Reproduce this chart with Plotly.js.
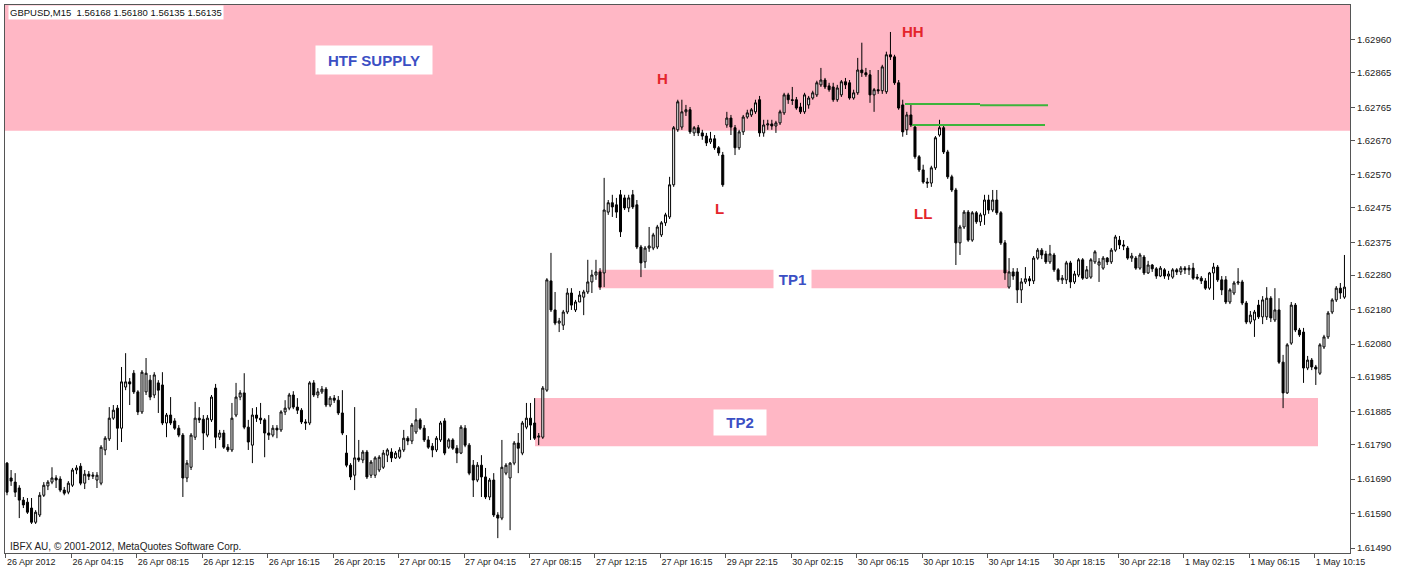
<!DOCTYPE html>
<html><head><meta charset="utf-8">
<script src="https://cdn.plot.ly/plotly-3.0.1.min.js"></script>
<style>html,body{margin:0;padding:0;background:#fff;}#chart{width:1407px;height:573px;}</style>
</head><body><div id="chart"></div>
<script>
// ---- data ----
const timeLabels = ["26 Apr 2012","26 Apr 04:15","26 Apr 08:15","26 Apr 12:15","26 Apr 16:15","26 Apr 20:15",
  "27 Apr 00:15","27 Apr 04:15","27 Apr 08:15","27 Apr 12:15","27 Apr 16:15","29 Apr 22:15","30 Apr 02:15",
  "30 Apr 06:15","30 Apr 10:15","30 Apr 14:15","30 Apr 18:15","30 Apr 22:18","1 May 02:15","1 May 06:15","1 May 10:15"];
const priceTicks = [1.62960,1.62865,1.62765,1.62670,1.62570,1.62475,1.62375,1.62280,1.62180,1.62080,1.61985,1.61885,1.61790,1.61690,1.61590,1.61490];

const open = [
1.61736,1.61693,1.61681,1.61664,1.61629,1.61623,1.61606,1.61565,1.61586,1.61643,
1.61670,1.61681,1.61693,1.61690,1.61658,1.61652,1.61672,1.61716,1.61727,1.61678,
1.61704,1.61698,1.61687,1.61678,1.61774,1.61806,1.61866,1.61895,1.61837,1.61956,
1.61971,1.61996,1.61942,1.61884,1.61942,1.61976,1.61933,1.61968,1.61962,1.61852,
1.61875,1.61858,1.61837,1.61817,1.61693,1.61724,1.61811,1.61866,1.61863,1.61817,
1.61861,1.61953,1.61811,1.61823,1.61782,1.61774,1.61875,1.61927,1.61939,1.61840,
1.61788,1.61875,1.61866,1.61861,1.61823,1.61817,1.61837,1.61832,1.61884,1.61895,
1.61933,1.61898,1.61889,1.61855,1.61852,1.61968,1.61933,1.61942,1.61950,1.61904,
1.61924,1.61918,1.61881,1.61765,1.61730,1.61701,1.61751,1.61745,1.61768,1.61701,
1.61701,1.61716,1.61724,1.61759,1.61768,1.61751,1.61753,1.61774,1.61808,1.61800,
1.61826,1.61861,1.61837,1.61803,1.61785,1.61774,1.61803,1.61858,1.61782,1.61803,
1.61779,1.61765,1.61837,1.61788,1.61730,1.61687,1.61730,1.61696,1.61638,1.61687,
1.61586,1.61577,1.61707,1.61693,1.61736,1.61794,1.61765,1.61840,1.61866,1.61852,
1.61811,1.61811,1.61947,1.62263,1.62179,1.62141,1.62135,1.62173,1.62228,1.62179,
1.62202,1.62216,1.62231,1.62260,1.62280,1.62289,1.62286,1.62462,1.62489,1.62483,
1.62512,1.62503,1.62474,1.62512,1.62483,1.62361,1.62318,1.62358,1.62358,1.62361,
1.62396,1.62431,1.62448,1.62541,1.62700,1.62708,1.62752,1.62758,1.62691,1.62706,
1.62691,1.62682,1.62665,1.62674,1.62648,1.62627,1.62714,1.62734,1.62706,1.62648,
1.62694,1.62737,1.62743,1.62752,1.62787,1.62691,1.62714,1.62717,1.62711,1.62720,
1.62749,1.62801,1.62787,1.62787,1.62766,1.62752,1.62772,1.62792,1.62801,
1.62830,1.62844,1.62827,1.62824,1.62787,1.62801,1.62839,1.62836,1.62792,
1.62807,1.62873,1.62865,1.62859,1.62801,1.62816,1.62813,1.62810,1.62917,1.62911,
1.62836,1.62772,1.62700,1.62743,1.62708,1.62622,1.62584,1.62549,1.62546,1.62590,
1.62685,1.62706,1.62636,1.62564,1.62526,1.62373,1.62419,1.62462,1.62381,1.62460,
1.62434,1.62454,1.62497,1.62468,1.62497,1.62460,1.62373,1.62245,1.62289,1.62289,
1.62237,1.62260,1.62269,1.62263,1.62329,1.62352,1.62341,1.62318,1.62338,1.62295,
1.62266,1.62266,1.62315,1.62260,1.62280,1.62324,1.62271,1.62274,1.62318,
1.62309,1.62300,1.62329,1.62318,1.62352,1.62381,1.62367,1.62358,1.62329,1.62329,
1.62300,1.62332,1.62286,1.62309,1.62298,1.62277,1.62295,1.62277,
1.62274,1.62295,1.62289,1.62300,1.62295,1.62300,1.62274,1.62271,1.62263,
1.62242,1.62286,1.62303,1.62266,1.62266,1.62202,1.62228,1.62257,1.62260,1.62199,
1.62144,1.62150,1.62193,1.62159,1.62159,1.62213,1.62150,1.62179,1.62028,1.61939,
1.62083,1.62193,1.62121,1.62115,1.62011,1.62034,1.62014,1.61996,1.62072,1.62101,
1.62173,1.62208,1.62242,1.62216];

const high = [
1.61739,1.61716,1.61707,1.61672,1.61638,1.61635,1.61635,1.61600,1.61652,1.61681,
1.61687,1.61724,1.61701,1.61698,1.61667,1.61684,1.61722,1.61730,1.61736,1.61716,
1.61713,1.61710,1.61710,1.61788,1.61814,1.61898,1.61904,1.61904,1.62014,1.62054,
1.61982,1.62005,1.61947,1.62005,1.62040,1.61991,1.61999,1.61976,1.61999,1.61881,
1.61927,1.61866,1.61846,1.61823,1.61745,1.61823,1.61913,1.61898,1.61875,1.61875,
1.61933,1.61965,1.61832,1.61832,1.61791,1.61910,1.61968,1.61947,1.61996,1.61861,
1.61895,1.61898,1.61910,1.61866,1.61875,1.61846,1.61846,1.61889,1.61918,1.61939,
1.61944,1.61924,1.61895,1.61863,1.61973,1.61976,1.61953,1.61959,1.61956,1.61930,
1.61933,1.61930,1.61947,1.61817,1.61736,1.61898,1.61803,1.61774,1.61774,1.61745,
1.61756,1.61759,1.61774,1.61779,1.61779,1.61771,1.61782,1.61832,1.61814,1.61852,
1.61895,1.61866,1.61846,1.61814,1.61794,1.61814,1.61858,1.61866,1.61808,1.61808,
1.61788,1.61846,1.61846,1.61794,1.61745,1.61739,1.61759,1.61722,1.61693,1.61707,
1.61594,1.61803,1.61736,1.61739,1.61800,1.61823,1.61858,1.61910,1.61910,1.61924,
1.61823,1.61959,1.62271,1.62344,1.62231,1.62156,1.62179,1.62242,1.62242,1.62208,
1.62234,1.62237,1.62324,1.62295,1.62324,1.62300,1.62561,1.62497,1.62512,1.62503,
1.62526,1.62512,1.62512,1.62526,1.62497,1.62367,1.62364,1.62419,1.62402,1.62425,
1.62436,1.62460,1.62564,1.62711,1.62787,1.62787,1.62772,1.62766,1.62711,1.62714,
1.62700,1.62691,1.62694,1.62685,1.62653,1.62636,1.62752,1.62743,1.62714,1.62700,
1.62743,1.62758,1.62763,1.62787,1.62798,1.62729,1.62729,1.62729,1.62726,1.62758,
1.62807,1.62807,1.62824,1.62795,1.62778,1.62807,1.62798,1.62813,1.62842,
1.62879,1.62850,1.62836,1.62836,1.62830,1.62844,1.62850,1.62844,1.62816,
1.62908,1.62952,1.62879,1.62873,1.62821,1.62873,1.62888,1.62926,1.62983,1.62917,
1.62844,1.62787,1.62752,1.62772,1.62714,1.62627,1.62599,1.62561,1.62596,1.62682,
1.62729,1.62711,1.62642,1.62570,1.62532,1.62425,1.62468,1.62468,1.62465,1.62465,
1.62460,1.62512,1.62512,1.62526,1.62526,1.62465,1.62381,1.62329,1.62300,1.62300,
1.62271,1.62303,1.62277,1.62335,1.62358,1.62358,1.62350,1.62367,1.62344,1.62300,
1.62280,1.62321,1.62321,1.62292,1.62329,1.62329,1.62306,1.62329,1.62352,
1.62329,1.62335,1.62332,1.62358,1.62396,1.62393,1.62381,1.62364,1.62344,1.62335,
1.62344,1.62338,1.62321,1.62312,1.62303,1.62306,1.62300,1.62292,
1.62300,1.62300,1.62306,1.62306,1.62309,1.62315,1.62283,1.62277,1.62271,
1.62289,1.62315,1.62309,1.62277,1.62277,1.62242,1.62263,1.62300,1.62266,1.62205,
1.62176,1.62179,1.62208,1.62219,1.62245,1.62219,1.62242,1.62213,1.62049,1.62083,
1.62202,1.62199,1.62127,1.62127,1.62046,1.62040,1.62020,1.62083,1.62107,1.62176,
1.62213,1.62248,1.62257,1.62338];

const low = [
1.61643,1.61670,1.61638,1.61577,1.61606,1.61589,1.61560,1.61560,1.61580,1.61638,
1.61658,1.61675,1.61664,1.61652,1.61643,1.61646,1.61667,1.61704,1.61672,1.61661,
1.61687,1.61690,1.61664,1.61672,1.61759,1.61800,1.61861,1.61774,1.61797,1.61947,
1.61904,1.61936,1.61875,1.61878,1.61933,1.61918,1.61924,1.61881,1.61846,1.61811,
1.61846,1.61832,1.61811,1.61638,1.61681,1.61716,1.61803,1.61852,1.61774,1.61811,
1.61855,1.61779,1.61803,1.61777,1.61768,1.61768,1.61869,1.61918,1.61834,1.61774,
1.61736,1.61855,1.61849,1.61753,1.61803,1.61811,1.61808,1.61826,1.61875,1.61889,
1.61892,1.61878,1.61849,1.61832,1.61846,1.61927,1.61924,1.61936,1.61898,1.61898,
1.61910,1.61875,1.61817,1.61724,1.61687,1.61658,1.61739,1.61736,1.61690,1.61693,
1.61693,1.61710,1.61719,1.61739,1.61739,1.61748,1.61748,1.61768,1.61788,1.61791,
1.61820,1.61832,1.61797,1.61777,1.61753,1.61768,1.61797,1.61759,1.61777,1.61774,
1.61736,1.61762,1.61782,1.61701,1.61638,1.61681,1.61638,1.61632,1.61629,1.61580,
1.61519,1.61571,1.61701,1.61542,1.61730,1.61707,1.61759,1.61834,1.61803,1.61803,
1.61788,1.61806,1.61942,1.62173,1.62135,1.62115,1.62121,1.62167,1.62179,1.62173,
1.62202,1.62164,1.62225,1.62228,1.62266,1.62237,1.62245,1.62454,1.62448,1.62445,
1.62390,1.62468,1.62462,1.62471,1.62355,1.62274,1.62300,1.62347,1.62352,1.62355,
1.62390,1.62422,1.62442,1.62535,1.62694,1.62700,1.62740,1.62688,1.62682,1.62682,
1.62671,1.62653,1.62659,1.62642,1.62625,1.62535,1.62706,1.62685,1.62627,1.62642,
1.62685,1.62732,1.62737,1.62746,1.62680,1.62680,1.62700,1.62700,1.62691,1.62714,
1.62743,1.62775,1.62772,1.62758,1.62746,1.62746,1.62761,1.62787,1.62795,
1.62824,1.62818,1.62810,1.62781,1.62781,1.62795,1.62818,1.62787,1.62787,
1.62801,1.62853,1.62853,1.62778,1.62752,1.62804,1.62804,1.62804,1.62902,1.62830,
1.62758,1.62680,1.62685,1.62708,1.62616,1.62578,1.62544,1.62532,1.62535,1.62584,
1.62680,1.62630,1.62558,1.62520,1.62309,1.62338,1.62413,1.62376,1.62376,1.62428,
1.62422,1.62425,1.62457,1.62462,1.62454,1.62367,1.62266,1.62240,1.62266,1.62199,
1.62199,1.62254,1.62248,1.62254,1.62324,1.62326,1.62312,1.62312,1.62289,1.62260,
1.62254,1.62254,1.62242,1.62254,1.62274,1.62266,1.62269,1.62269,1.62312,
1.62260,1.62295,1.62309,1.62312,1.62347,1.62355,1.62352,1.62324,1.62318,1.62295,
1.62295,1.62280,1.62283,1.62289,1.62269,1.62274,1.62269,1.62266,
1.62269,1.62280,1.62280,1.62283,1.62280,1.62266,1.62266,1.62254,1.62237,
1.62237,1.62208,1.62260,1.62222,1.62196,1.62196,1.62222,1.62251,1.62193,1.62138,
1.62138,1.62101,1.62153,1.62138,1.62150,1.62144,1.62144,1.62023,1.61895,1.61936,
1.62078,1.62115,1.62101,1.61968,1.62005,1.62005,1.61962,1.61991,1.62066,1.62095,
1.62167,1.62202,1.62211,1.62211];

const close = [
1.61652,1.61684,1.61652,1.61629,1.61615,1.61594,1.61565,1.61594,1.61643,1.61672,
1.61681,1.61693,1.61687,1.61658,1.61649,1.61678,1.61716,1.61722,1.61678,1.61704,
1.61698,1.61701,1.61701,1.61782,1.61808,1.61866,1.61889,1.61837,1.61971,1.61971,
1.61965,1.61942,1.61884,1.61999,1.61996,1.61927,1.61991,1.61947,1.61852,1.61875,
1.61852,1.61837,1.61817,1.61693,1.61736,1.61817,1.61866,1.61861,1.61823,1.61866,
1.61927,1.61811,1.61823,1.61782,1.61774,1.61866,1.61927,1.61939,1.61840,1.61797,
1.61875,1.61866,1.61861,1.61823,1.61817,1.61837,1.61832,1.61884,1.61895,1.61933,
1.61898,1.61889,1.61855,1.61852,1.61968,1.61933,1.61942,1.61950,1.61904,1.61924,
1.61918,1.61881,1.61823,1.61730,1.61696,1.61751,1.61745,1.61768,1.61696,1.61739,
1.61751,1.61753,1.61765,1.61774,1.61751,1.61765,1.61774,1.61808,1.61800,1.61846,
1.61861,1.61837,1.61803,1.61782,1.61774,1.61808,1.61852,1.61765,1.61803,1.61779,
1.61765,1.61840,1.61788,1.61707,1.61687,1.61730,1.61696,1.61638,1.61687,1.61586,
1.61577,1.61724,1.61730,1.61736,1.61794,1.61779,1.61852,1.61866,1.61846,1.61808,
1.61814,1.61953,1.62266,1.62179,1.62141,1.62147,1.62173,1.62228,1.62193,1.62202,
1.62222,1.62231,1.62260,1.62280,1.62289,1.62245,1.62468,1.62489,1.62477,1.62462,
1.62405,1.62474,1.62503,1.62477,1.62361,1.62315,1.62358,1.62364,1.62396,1.62419,
1.62431,1.62454,1.62541,1.62706,1.62781,1.62752,1.62758,1.62694,1.62706,1.62691,
1.62682,1.62662,1.62674,1.62648,1.62633,1.62541,1.62734,1.62708,1.62648,1.62694,
1.62737,1.62749,1.62758,1.62778,1.62691,1.62714,1.62717,1.62711,1.62720,1.62752,
1.62801,1.62787,1.62785,1.62763,1.62752,1.62801,1.62792,1.62807,1.62836,
1.62844,1.62824,1.62816,1.62787,1.62821,1.62839,1.62830,1.62792,1.62807,
1.62873,1.62865,1.62859,1.62801,1.62816,1.62813,1.62882,1.62917,1.62911,1.62836,
1.62763,1.62694,1.62743,1.62714,1.62622,1.62584,1.62549,1.62546,1.62590,1.62677,
1.62706,1.62636,1.62564,1.62526,1.62373,1.62419,1.62462,1.62381,1.62460,1.62434,
1.62454,1.62497,1.62468,1.62497,1.62460,1.62373,1.62286,1.62289,1.62277,1.62237,
1.62260,1.62269,1.62263,1.62329,1.62352,1.62338,1.62318,1.62341,1.62295,1.62266,
1.62271,1.62315,1.62260,1.62283,1.62324,1.62271,1.62295,1.62324,1.62347,
1.62318,1.62329,1.62318,1.62352,1.62390,1.62367,1.62364,1.62329,1.62335,1.62300,
1.62338,1.62286,1.62309,1.62298,1.62277,1.62300,1.62277,1.62283,
1.62295,1.62289,1.62300,1.62295,1.62300,1.62271,1.62271,1.62263,1.62242,
1.62286,1.62303,1.62266,1.62237,1.62202,1.62237,1.62257,1.62260,1.62199,1.62144,
1.62164,1.62173,1.62159,1.62208,1.62213,1.62156,1.62179,1.62028,1.61939,1.62078,
1.62193,1.62121,1.62107,1.62011,1.62034,1.62014,1.62008,1.62078,1.62101,1.62170,
1.62208,1.62242,1.62228,1.62245];

// zones drawn on the chart (price levels)
const zoneNames = ["HTF SUPPLY", "TP1", "TP2"];
const zoneLow  = [1.62697, 1.62242, 1.61785];
const zoneHigh = [1.63061, 1.62295, 1.61924];
const greenLevels = [1.62775, 1.62771, 1.62714];
const swingLabels = ["H", "L", "HH", "LL"];
const headerText = "GBPUSD,M15  1.56168 1.56180 1.56135 1.56135";
const footerText = "IBFX AU, \u00A9 2001-2012, MetaQuotes Software Corp.";

// ---- layout helpers (pixel -> paper) ----
const PL = 5, PR = 1350, PT = 5, PB = 553;
const px = x => (x - PL) / (PR - PL);
const py = y => (PB - y) / (PB - PT);
const bars = open.map((_, i) => i);

const pink = '#ffb7c5';
const blue = '#3b4fc4';
const red = '#e4252b';
const green = '#3cb43c';

const shapes = [
  {type:'rect', layer:'below', xref:'paper', yref:'y', x0:0, x1:1, y0:zoneLow[0], y1:zoneHigh[0], fillcolor:pink, line:{width:0}},
  {type:'rect', layer:'below', xref:'paper', yref:'y', x0:px(598), x1:px(1008), y0:zoneLow[1], y1:zoneHigh[1], fillcolor:pink, line:{width:0}},
  {type:'rect', layer:'below', xref:'paper', yref:'y', x0:px(535), x1:px(1318), y0:zoneLow[2], y1:zoneHigh[2], fillcolor:pink, line:{width:0}},
  {type:'line', xref:'paper', yref:'y', x0:px(905), x1:px(980), y0:greenLevels[0], y1:greenLevels[0], line:{color:green, width:2}},
  {type:'line', xref:'paper', yref:'y', x0:px(980), x1:px(1048), y0:greenLevels[1], y1:greenLevels[1], line:{color:green, width:2}},
  {type:'line', xref:'paper', yref:'y', x0:px(912), x1:px(1045), y0:greenLevels[2], y1:greenLevels[2], line:{color:green, width:2}}
];

const lbl = (text, x, y, color, opts) => Object.assign({
  text: '<b>' + text + '</b>', xref:'paper', yref:'paper', x: px(x), y: py(y),
  xanchor:'center', yanchor:'middle', showarrow:false,
  font:{family:'Liberation Sans, Arial, sans-serif', size:15, color:color}
}, opts || {});

const annotations = [
  lbl(zoneNames[0], 374, 60, blue, {bgcolor:'#fff', width:116, height:28, borderpad:0}),
  lbl(zoneNames[1], 793, 279, blue, {bgcolor:'#fff', width:37, height:22, borderpad:0}),
  lbl(zoneNames[2], 740, 422, blue, {bgcolor:'#fff', width:52, height:25, borderpad:0}),
  lbl(swingLabels[0], 662, 78, red),
  lbl(swingLabels[1], 719, 208, red),
  lbl(swingLabels[2], 913, 32, red),
  lbl(swingLabels[3], 923, 214, red),
  {text: headerText, xref:'paper', yref:'paper', x: px(8), y: py(12.5), xanchor:'left', yanchor:'middle',
   showarrow:false, bgcolor:'#fff', borderpad:1,
   font:{family:'Liberation Sans, Arial, sans-serif', size:9.5, color:'#111'}},
  {text: footerText, xref:'paper', yref:'paper', x: px(8), y: py(546), xanchor:'left', yanchor:'middle',
   showarrow:false, font:{family:'Liberation Sans, Arial, sans-serif', size:10, color:'#222'}}
];

const trace = {
  type:'candlestick', x: bars, open: open, high: high, low: low, close: close,
  increasing:{line:{color:'#000', width:1}, fillcolor:'#ffffff'},
  decreasing:{line:{color:'#000', width:1}, fillcolor:'#000000'},
  whiskerwidth:0, hoverinfo:'skip', showlegend:false
};

const layout = {
  width:1407, height:573,
  margin:{l:PL, r:1407-PR, t:PT, b:573-PB, pad:0},
  paper_bgcolor:'#fff', plot_bgcolor:'#fff',
  showlegend:false,
  xaxis:{
    range:[-0.49, 328.36], showgrid:false, zeroline:false,
    showline:true, mirror:true, linecolor:'#555', linewidth:1,
    ticks:'outside', ticklen:4, tickcolor:'#555',
    tickvals: timeLabels.map((_, k) => k * 16 - 0.25), ticktext: timeLabels,
    ticklabelposition:'outside right',
    tickfont:{family:'Liberation Sans, Arial, sans-serif', size:9, color:'#222'},
    rangeslider:{visible:false}, fixedrange:true
  },
  yaxis:{
    side:'right', range:[1.61476, 1.63061], showgrid:false, zeroline:false,
    showline:true, mirror:true, linecolor:'#555', linewidth:1,
    ticks:'outside', ticklen:4, tickcolor:'#555',
    tickvals: priceTicks, ticktext: priceTicks.map(v => v.toFixed(5)),
    tickfont:{family:'Liberation Sans, Arial, sans-serif', size:9.5, color:'#222'},
    fixedrange:true
  },
  shapes: shapes,
  annotations: annotations
};

Plotly.newPlot('chart', [trace], layout, {staticPlot:true, displayModeBar:false});
</script>
</body></html>
